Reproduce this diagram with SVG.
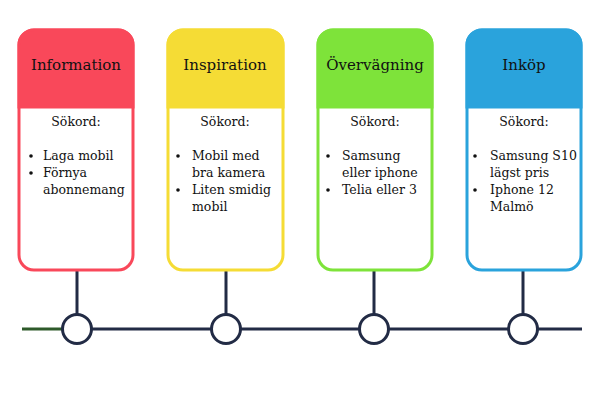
<svg xmlns="http://www.w3.org/2000/svg" width="600" height="400" viewBox="0 0 600 400">
<style>
.title{font-family:"DejaVu Serif","Liberation Serif",serif;font-size:15px;fill:#111;text-anchor:middle}
.sub{font-family:"DejaVu Serif","Liberation Serif",serif;font-size:12.5px;fill:#111;text-anchor:middle}
.item{font-family:"DejaVu Serif","Liberation Serif",serif;font-size:12.5px;fill:#111}
.line{stroke:#222B45;stroke-width:3;fill:none}
.dot{fill:#111}
.node{fill:#fff;stroke:#222B45;stroke-width:3}
</style>
<rect width="600" height="400" fill="#fff"/>
<g id="connectors">
<line x1="22" y1="329" x2="62" y2="329" stroke="#2E5A2A" stroke-width="3"/>
<line class="line" x1="62" y1="329" x2="582" y2="329"/>
<line class="line" x1="77" y1="271" x2="77" y2="315"/>
<line class="line" x1="226" y1="271" x2="226" y2="315"/>
<line class="line" x1="374" y1="271" x2="374" y2="315"/>
<line class="line" x1="523" y1="271" x2="523" y2="315"/>
<circle class="node" cx="77" cy="329" r="14.5"/>
<circle class="node" cx="226" cy="329" r="14.5"/>
<circle class="node" cx="374" cy="329" r="14.5"/>
<circle class="node" cx="523" cy="329" r="14.5"/>
</g>
<g id="card-information">
<rect x="19" y="30" width="114" height="240" rx="15" fill="#fff" stroke="#F9485A" stroke-width="3"/>
<path d="M19 107 V45 A15 15 0 0 1 34 30 H118 A15 15 0 0 1 133 45 V107 Z" fill="#F9485A" stroke="#F9485A" stroke-width="3"/>
<text class="title" x="76" y="70">Information</text>
<text class="sub" x="76" y="126">Sökord:</text>
<circle class="dot" cx="31" cy="156" r="1.8"/>
<text class="item" x="43" y="160">Laga mobil</text>
<circle class="dot" cx="31" cy="173" r="1.8"/>
<text class="item" x="43" y="177">Förnya</text>
<text class="item" x="43" y="194">abonnemang</text>
</g>
<g id="card-inspiration">
<rect x="168" y="30" width="115" height="240" rx="15" fill="#fff" stroke="#F5DC35" stroke-width="3"/>
<path d="M168 107 V45 A15 15 0 0 1 183 30 H268 A15 15 0 0 1 283 45 V107 Z" fill="#F5DC35" stroke="#F5DC35" stroke-width="3"/>
<text class="title" x="225" y="70">Inspiration</text>
<text class="sub" x="225" y="126">Sökord:</text>
<circle class="dot" cx="178" cy="156" r="1.8"/>
<text class="item" x="192" y="160">Mobil med</text>
<text class="item" x="192" y="177">bra kamera</text>
<circle class="dot" cx="178" cy="190" r="1.8"/>
<text class="item" x="192" y="194">Liten smidig</text>
<text class="item" x="192" y="211">mobil</text>
</g>
<g id="card-overvagning">
<rect x="318" y="30" width="114" height="240" rx="15" fill="#fff" stroke="#7EE33A" stroke-width="3"/>
<path d="M318 107 V45 A15 15 0 0 1 333 30 H417 A15 15 0 0 1 432 45 V107 Z" fill="#7EE33A" stroke="#7EE33A" stroke-width="3"/>
<text class="title" x="375" y="70">Övervägning</text>
<text class="sub" x="375" y="126">Sökord:</text>
<circle class="dot" cx="328" cy="156" r="1.8"/>
<text class="item" x="342" y="160">Samsung</text>
<text class="item" x="342" y="177">eller iphone</text>
<circle class="dot" cx="328" cy="190" r="1.8"/>
<text class="item" x="342" y="194">Telia eller 3</text>
</g>
<g id="card-inkop">
<rect x="467" y="30" width="114" height="240" rx="15" fill="#fff" stroke="#2AA3DC" stroke-width="3"/>
<path d="M467 107 V45 A15 15 0 0 1 482 30 H566 A15 15 0 0 1 581 45 V107 Z" fill="#2AA3DC" stroke="#2AA3DC" stroke-width="3"/>
<text class="title" x="524" y="70">Inköp</text>
<text class="sub" x="524" y="126">Sökord:</text>
<circle class="dot" cx="475" cy="156" r="1.8"/>
<text class="item" x="490" y="160">Samsung S10</text>
<text class="item" x="490" y="177">lägst pris</text>
<circle class="dot" cx="475" cy="190" r="1.8"/>
<text class="item" x="490" y="194">Iphone 12</text>
<text class="item" x="490" y="211">Malmö</text>
</g>
</svg>
